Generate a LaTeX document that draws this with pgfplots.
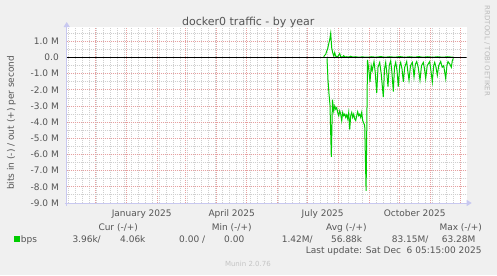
\documentclass[border=0pt]{standalone}
\usepackage{pgfplots}
\pgfplotsset{compat=1.18}
\usepackage{pgfplotstable}
\usepackage{fontspec}
\setmainfont{DejaVu Sans}
\usetikzlibrary{arrows.meta}
\definecolor{bgc}{HTML}{F0F0F0}
\definecolor{txt}{HTML}{555555}
\definecolor{mgrid}{HTML}{E6A0A0}
\definecolor{ngrid}{HTML}{CFCFCF}
\definecolor{axc}{HTML}{C8C8F0}
\definecolor{lgreen}{HTML}{00CC00}
\definecolor{faint}{HTML}{C4C4C4}
\definecolor{faintb}{HTML}{BBBBBB}

% out (+) series, values in M bits/s, x in days since 1 Jan 2025
\pgfplotstableread{
d v
197 0.05
198 0.14
199 0.2
200 0.4
201 0.55
202 0.85
203 1.1
204 1.5
205 0.6
206 0.3
207 0.1
208 0.3
209 0.08
211 0.05
213 0.25
214 0.05
216 0.04
217 0.12
218 0.03
220 0.05
222 0.03
224 0.08
226 0.03
229 0.05
232 0.02
235 0.04
238 0.03
241 0.02
245 0.05
249 0.02
254 0.06
258 0.02
263 0.05
268 0.02
273 0.06
278 0.02
283 0.05
288 0.02
292 0.06
296 0.02
301 0.05
306 0.02
311 0.05
316 0.02
321 0.05
326 0.02
}\outtable

% in (-) series, plotted negative
\pgfplotstableread{
d v
200.3 -0.05
201.3 -1.4
202.3 -2.25
203.3 -2.95
204.6 -6.15
205.8 -2.6
207 -3.3
208 -3.0
209 -3.2
210 -3.1
211 -3.4
212 -3.6
213 -3.3
214 -3.5
215 -3.9
216 -3.4
217 -3.6
218 -3.5
219 -3.7
220 -3.55
221 -3.8
222 -3.4
223 -4.45
224 -3.6
225 -3.4
226 -3.7
227 -3.5
228 -3.8
229 -3.9
230 -3.6
231 -3.35
232 -3.6
233 -3.5
234 -3.7
235 -3.4
236 -3.9
237 -4.05
238 -4.2
239.4 -8.25
240.8 -0.15
241.8 -0.6
243.3 -1.5
244.5 -0.5
245.5 -0.8
247.3 -0.25
248.5 -0.9
250 -2.2
251.3 -0.6
253 -0.3
254.5 -1.0
256.6 -2.45
257.8 -0.7
259 -0.3
260 -0.9
261.3 -1.8
262.5 -0.5
264 -0.2
265.2 -0.9
266.6 -2.1
267.8 -0.6
269 -0.3
270.3 -0.8
271.6 -1.8
273 -0.5
274 -0.3
275.3 -0.7
276.6 -1.5
278 -0.6
280 -0.25
281 -0.8
282.3 -1.4
283.8 -0.5
285.6 -0.3
286.5 -0.7
287.3 -1.2
288.7 -0.4
290 -0.25
291.5 -0.6
293.3 -1.4
294.8 -0.5
296.6 -0.3
297.8 -0.7
299 -1.3
300.5 -0.5
303 -0.25
304.2 -0.8
305.6 -1.5
307 -0.5
308 -0.3
309.3 -0.6
310.6 -1.1
312 -0.5
314 -0.25
315.5 -0.6
317 -0.5
319 -1.3
320.2 -0.5
321.3 -0.25
323 -0.4
324.6 -0.6
325.6 -0.2
326.6 -0.05
}\intable

\begin{document}
\begin{tikzpicture}[x=1bp,y=1bp,font=\fontsize{9bp}{11bp}\selectfont]
\path[use as bounding box, fill=bgc] (0,0) rectangle (497,275);
\begin{axis}[
  at={(66.7bp,72bp)}, anchor=south west, scale only axis,
  width=400bp, height=176bp,
  xmin=-60, xmax=340, ymin=-9, ymax=1.89,
  axis lines=left,
  axis background/.style={fill=white},
  x axis line style={draw=axc, line width=1bp, -{Triangle[length=5bp,width=6bp]}, shorten >=-5bp, shorten <=-2bp},
  y axis line style={draw=axc, line width=1bp, -{Triangle[length=5bp,width=6bp]}, shorten >=-5bp, shorten <=-3bp},
  xtick={-31,0,31,59,90,120,151,181,212,243,273,304,334},
  xticklabels={},
  minor xtick={-58,-51,...,338},
  ytick={-9,-8,...,1},
  yticklabels={-9.0 M,-8.0 M,-7.0 M,-6.0 M,-5.0 M,-4.0 M,-3.0 M,-2.0 M,-1.0 M,0.0,1.0 M},
  minor ytick={-8.5,-7.5,...,1.5},
  grid=both,
  major grid style={draw=mgrid, dash pattern=on 1bp off 1bp, line width=0.9bp},
  minor grid style={draw=ngrid, dash pattern=on 1bp off 1bp, line width=0.9bp},
  major tick length=0pt, minor tick length=0pt,
  yticklabel style={anchor=east, inner sep=0pt, xshift=-7.7bp, text=txt},
  xticklabel style={text=txt},
  extra x ticks={15,105,196,288},
  extra x tick labels={January 2025,April 2025,July 2025,October 2025},
  extra x tick style={grid=none, xticklabel style={anchor=base, inner sep=0pt, yshift=-13bp, text=txt}},
]
\addplot[lgreen, line width=1bp] table[x=d,y=v] {\intable};
\addplot[lgreen, line width=1bp] table[x=d,y=v] {\outtable};
\addplot[black, line width=1bp] coordinates {(-60,0) (340,0)};
\end{axis}
% title
\node[text=txt, font=\fontsize{11bp}{13bp}\selectfont, anchor=base] at (248.3,249.3) {docker0 traffic - by year};
% y label
\node[text=txt, rotate=90] at (11.5,152.2) {bits in (-) / out (+) per second};
% vertical credit
\node[text=faintb, rotate=-90, font=\fontsize{7bp}{8bp}\selectfont] at (487.2,224.1) {RRDTOOL / TOBI OETIKER};
% legend
\node[text=txt, anchor=base west, inner sep=0pt] at (98.3,44.5) {Cur (-/+)};
\node[text=txt, anchor=base west, inner sep=0pt] at (211.7,44.5) {Min (-/+)};
\node[text=txt, anchor=base west, inner sep=0pt] at (326,44.5) {Avg (-/+)};
\node[text=txt, anchor=base west, inner sep=0pt] at (439.3,44.5) {Max (-/+)};
\fill[lgreen] (14,33) rectangle (20,39);
\node[text=txt, anchor=base west, inner sep=0pt] at (20.7,32.5) {bps};
\node[text=txt, anchor=base west, inner sep=0pt] at (72.3,32.5) {3.96k/};
\node[text=txt, anchor=base west, inner sep=0pt] at (120,32.5) {4.06k};
\node[text=txt, anchor=base west, inner sep=0pt] at (179,32.5) {0.00 /};
\node[text=txt, anchor=base west, inner sep=0pt] at (224,32.5) {0.00};
\node[text=txt, anchor=base west, inner sep=0pt] at (281.7,32.5) {1.42M/};
\node[text=txt, anchor=base west, inner sep=0pt] at (331,32.5) {56.88k};
\node[text=txt, anchor=base west, inner sep=0pt] at (391.7,32.5) {83.15M/};
\node[text=txt, anchor=base west, inner sep=0pt] at (441.7,32.5) {63.28M};
\node[text=txt, anchor=base east, inner sep=0pt] at (481.7,21.3) {Last update: Sat Dec\ \ 6 05:15:00 2025};
\node[text=faint, anchor=base, inner sep=0pt, font=\fontsize{7bp}{8bp}\selectfont] at (247.9,9) {Munin 2.0.76};
\end{tikzpicture}
\end{document}
